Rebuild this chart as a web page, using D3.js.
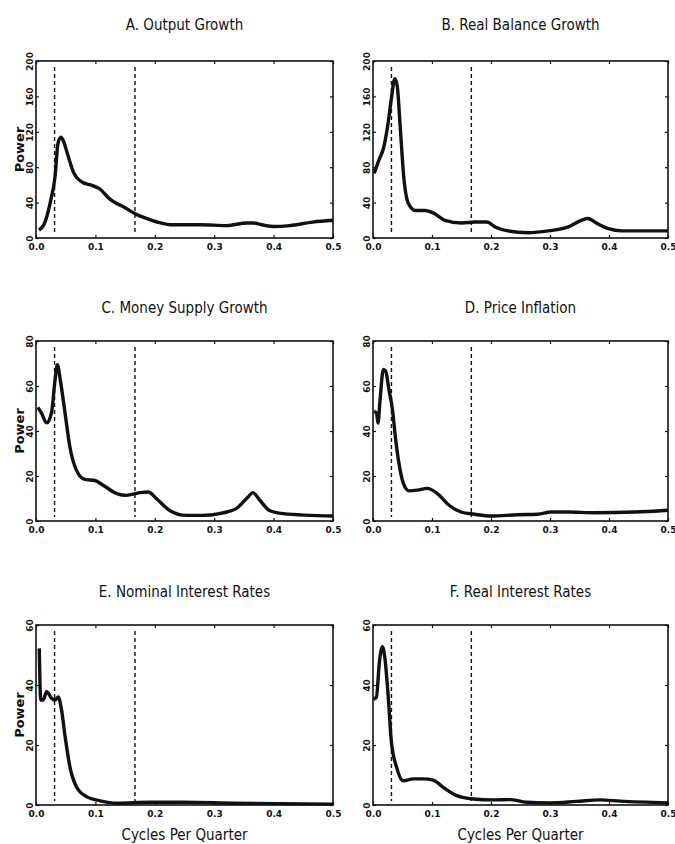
<!doctype html>
<html>
<head>
  <meta charset="utf-8">
  <title>Spectral Densities</title>
  <style>
    body { margin: 0; background: #fff; }
    svg { display: block; }
    .title, .xlabel { font-family: "Liberation Sans Narrow", "DejaVu Sans Condensed", sans-serif; font-size: 15px; fill: #111; }
    .tick text { font-family: "DejaVu Sans", sans-serif; font-weight: bold; font-size: 9px; fill: #111; }
    .ylabel { font-family: "DejaVu Sans", sans-serif; font-weight: bold; font-size: 13px; fill: #111; }
  </style>
</head>
<body>
  <div id="vis"></div>
  <script src="https://cdn.jsdelivr.net/npm/d3@7"></script>
  <script>

    // frequency (cycles per quarter), power
    var outputGrowth = [[0.005,9],[0.014,16],[0.025,43],[0.032,69],[0.037,107],[0.042,114],[0.046,110],
      [0.053,95],[0.064,73],[0.078,63],[0.092,60],[0.106,56],[0.126,43],[0.148,35],[0.168,27],[0.187,22],
      [0.21,17],[0.226,15],[0.277,15],[0.321,14],[0.355,17],[0.365,17],[0.38,15],[0.4,13],[0.427,14],
      [0.466,18],[0.5,20]];

    var realBalanceGrowth = [[0.002,73],[0.01,88],[0.018,102],[0.025,127],[0.031,157],[0.037,180],
      [0.041,172],[0.046,127],[0.052,70],[0.06,39],[0.072,31],[0.088,31],[0.103,28],[0.122,20],[0.15,17],
      [0.173,18],[0.193,18],[0.207,12.5],[0.229,8],[0.263,6],[0.297,8],[0.331,12.5],[0.353,20],[0.364,22],
      [0.381,16],[0.399,10.5],[0.421,8],[0.5,8]];

    var moneySupplyGrowth = [[0.003,50.5],[0.0095,47.8],[0.018,43.6],[0.026,48],[0.032,62.5],[0.036,69.5],
      [0.041,62.5],[0.049,47.8],[0.057,33],[0.068,22.6],[0.082,18.5],[0.099,18],[0.113,15.9],[0.136,12.2],
      [0.152,11.4],[0.175,12.6],[0.189,12.9],[0.203,9.9],[0.225,4.7],[0.253,2.5],[0.281,2.5],[0.309,3.3],
      [0.337,5.5],[0.357,10.7],[0.365,12.6],[0.377,9.2],[0.393,4.7],[0.416,3.3],[0.5,2.2]];

    var priceInflation = [[0.002,48.7],[0.006,48],[0.0085,43.5],[0.012,54],[0.0176,67.4],[0.0215,66.6],
      [0.027,58.4],[0.033,49.5],[0.0385,36],[0.044,25.6],[0.0515,16.7],[0.061,13.4],[0.075,13.7],
      [0.092,14.5],[0.109,12.2],[0.129,7],[0.149,4],[0.172,3],[0.2,2.2],[0.245,2.8],[0.279,3],[0.302,4],
      [0.33,4],[0.375,3.7],[0.443,4],[0.5,4.8]];

    var nominalInterest = [[0.0055,52.2],[0.008,35],[0.012,35],[0.018,37.8],[0.026,35.6],[0.032,35],
      [0.0375,36],[0.043,31.7],[0.049,22.8],[0.057,12.8],[0.068,6.1],[0.085,2.8],[0.108,1.4],[0.136,0.6],
      [0.192,0.9],[0.248,0.9],[0.332,0.6],[0.5,0.3]];

    var realInterest = [[0.001,35.3],[0.0057,35.9],[0.011,48],[0.016,52.8],[0.02,49.2],[0.0255,37],
      [0.031,21.4],[0.04,12.6],[0.051,8.1],[0.068,8.7],[0.085,8.7],[0.102,8.3],[0.119,5.9],[0.142,3.1],
      [0.17,2],[0.204,1.7],[0.232,1.8],[0.26,0.9],[0.3,0.7],[0.345,1.2],[0.385,1.7],[0.419,1.3],[0.5,0.7]];

    var titles = ["A. Output Growth", "B. Real Balance Growth", "C. Money Supply Growth",
                  "D. Price Inflation", "E. Nominal Interest Rates", "F. Real Interest Rates"];
    var series = [outputGrowth, realBalanceGrowth, moneySupplyGrowth, priceInflation, nominalInterest, realInterest];
    var yMax = [200, 200, 80, 80, 60, 60];
    var yTicks = [[0,40,80,120,160,200], [0,40,80,120,160,200], [0,20,40,60,80], [0,20,40,60,80],
                  [0,20,40,60], [0,20,40,60]];
    var xTicks = [0, 0.1, 0.2, 0.3, 0.4, 0.5];
    var bandLines = [1/32, 1/6];   // business cycle band, 8 to 32 quarters

    var W = 675, H = 844;
    var colLeft = [36, 373], colWidth = [297, 295];
    var rowTop = [61, 341, 625], rowHeight = [177, 180, 180];

    var svg = d3.select("#vis").append("svg")
        .attr("width", W)
        .attr("height", H);

    series.forEach(function(data, i){
      var col = i % 2, row = Math.floor(i / 2);
      var x0 = colLeft[col], y0 = rowTop[row], w = colWidth[col], h = rowHeight[row];

      var x = d3.scaleLinear().domain([0, 0.5]).range([0, w]);
      var y = d3.scaleLinear().domain([0, yMax[i]]).range([h, 0]);

      var g = svg.append("g").attr("transform", "translate(" + x0 + "," + y0 + ")");

      // title
      svg.append("text")
         .attr("class", "title")
         .attr("x", x0 + w / 2)
         .attr("y", y0 - (row === 0 ? 31 : 28))
         .attr("text-anchor", "middle")
         .text(titles[i]);

      // axes with inward ticks
      g.append("g")
       .attr("transform", "translate(0," + h + ")")
       .call(d3.axisBottom(x).tickValues(xTicks).tickSizeInner(-3).tickSizeOuter(0).tickPadding(6)
              .tickFormat(d3.format(".1f")))
       .call(function(a){ a.select(".domain").remove(); });

      g.append("g")
       .call(d3.axisTop(x).tickValues(xTicks).tickSizeInner(-3).tickSizeOuter(0).tickFormat(""))
       .call(function(a){ a.select(".domain").remove(); });

      var yAxis = g.append("g")
       .call(d3.axisLeft(y).tickValues(yTicks[i]).tickSizeInner(-3).tickSizeOuter(0).tickPadding(0)
              .tickFormat(d3.format("d")))
       .call(function(a){ a.select(".domain").remove(); });
      yAxis.selectAll(".tick text")
           .attr("x", -3)
           .attr("dy", 0)
           .attr("text-anchor", "middle")
           .attr("transform", "rotate(-90,-3,0)");

      g.append("g")
       .attr("transform", "translate(" + w + ",0)")
       .call(d3.axisRight(y).tickValues(yTicks[i]).tickSizeInner(-3).tickSizeOuter(0).tickFormat(""))
       .call(function(a){ a.select(".domain").remove(); });

      g.selectAll(".tick line").attr("stroke", "#111").attr("stroke-width", 1.2);

      // dashed band lines
      g.selectAll(".band")
       .data(bandLines)
       .enter()
       .append("line")
       .attr("x1", function(d){ return x(d); })
       .attr("x2", function(d){ return x(d); })
       .attr("y1", 6)
       .attr("y2", h - 4)
       .attr("stroke", "#111")
       .attr("stroke-width", 1.4)
       .attr("stroke-dasharray", "4,3");

      // spectrum
      var line = d3.line()
          .x(function(d){ return x(d[0]); })
          .y(function(d){ return y(d[1]); })
          .curve(d3.curveMonotoneX);

      g.append("path")
       .datum(data)
       .attr("d", line)
       .attr("fill", "none")
       .attr("stroke", "#111")
       .attr("stroke-width", 3.4)
       .attr("stroke-linejoin", "round");

      // frame
      g.append("rect")
       .attr("width", w)
       .attr("height", h)
       .attr("fill", "none")
       .attr("stroke", "#111")
       .attr("stroke-width", 1.6);

      if (col === 0) {
        svg.append("text")
           .attr("class", "ylabel")
           .attr("transform", "translate(" + (x0 - 12) + "," + (y0 + h / 2) + ") rotate(-90)")
           .attr("text-anchor", "middle")
           .text("Power");
      }

      if (row === 2) {
        svg.append("text")
           .attr("class", "xlabel")
           .attr("x", x0 + w / 2)
           .attr("y", 840)
           .attr("text-anchor", "middle")
           .text("Cycles Per Quarter");
      }
    });
  </script>
</body>
</html>
